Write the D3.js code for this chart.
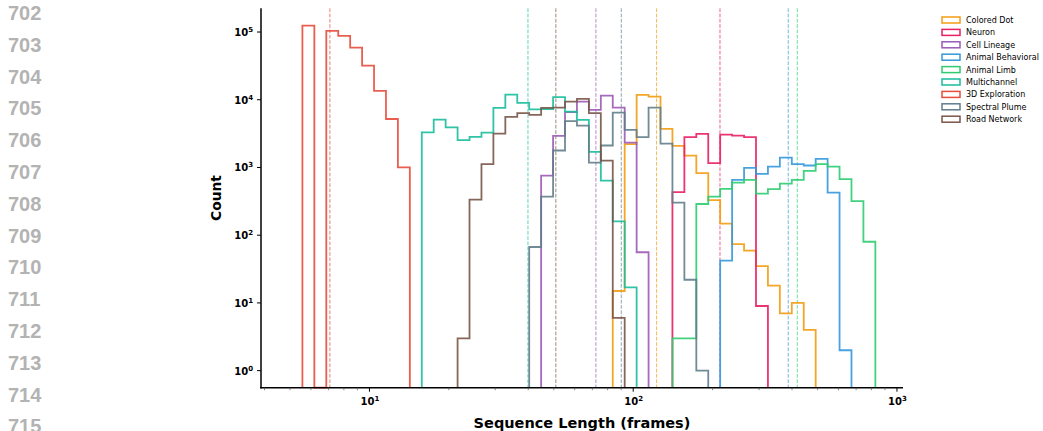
<!DOCTYPE html>
<html>
  <head>
    <meta charset="utf-8" />
    <title>Sequence length histogram</title>
    <script src="https://d3js.org/d3.v7.min.js"></script>
    <style>
      body { margin: 0; background: white; }
      svg { display: block; }
      .tick-label { font-family: "DejaVu Sans", sans-serif; font-weight: bold; font-size: 10px; }
      .axis-title { font-family: "DejaVu Sans", sans-serif; font-weight: bold; font-size: 14.5px; }
      .legend-text { font-family: "DejaVu Sans", sans-serif; font-size: 8px; }
      .gutter { font-family: "Liberation Sans", Arial, sans-serif; font-weight: bold; font-size: 20px; fill: #b3b3b3; }
    </style>
  </head>
  <body>
    <svg width="1043" height="431" id="chart"></svg>
    <script>
      // series, in legend order
      const seriesNames = ["Colored Dot", "Neuron", "Cell Lineage", "Animal Behavioral", "Animal Limb",
                           "Multichannel", "3D Exploration", "Spectral Plume", "Road Network"];
      const seriesColors = ["#f39c12", "#e91e63", "#9b59b6", "#3498db", "#2ecc71",
                            "#1abc9c", "#e74c3c", "#607d8b", "#795548"];

      // shared log bins (48 bins between these lengths)
      const binLo = 5.57, binHi = 828, binCount = 48;

      // first bin index of each series, then counts per bin
      const startBin = [26, 31, 20, 35, 31, 10, 0, 19, 13];
      const countsColoredDot = [15, 2210, 11800, 11100, 3720, 2080, 1500, 824, 329, 148, 74, 59, 35, 18, 7, 10, 4];
      const countsNeuron = [432, 2800, 3130, 1156, 3060, 2960, 2800, 9];
      const countsCellLineage = [760, 2930, 6560, 9400, 7100, 11500, 7670, 2330, 56];
      const countsAnimalBehavioral = [42, 656, 986, 805, 1030, 1400, 1120, 1070, 1340, 426, 2];
      const countsAnimalLimb = [3, 3, 289, 372, 483, 598, 656, 411, 478, 578, 656, 891, 1120, 1030, 671, 318, 80];
      const countsMultichannel = [3300, 5100, 3900, 2530, 2830, 3280, 7600, 11900, 9000, 7200, 7300, 10900, 6700, 5050, 1700, 640, 160, 17];
      const counts3D = [124000, 0, 104000, 88000, 59000, 32000, 13500, 5200, 1000];
      const countsSpectral = [67, 372, 1780, 4830, 4160, 1180, 2110, 6460, 3590, 2800, 7670, 2250, 303, 22, 1];
      const countsRoad = [3, 336, 1120, 3170, 5590, 6340, 5960, 7590, 7670, 9400, 10300, 6340, 1260, 6];
      const allCounts = [countsColoredDot, countsNeuron, countsCellLineage, countsAnimalBehavioral, countsAnimalLimb,
                         countsMultichannel, counts3D, countsSpectral, countsRoad];

      // dashed reference line per series (frames)
      const meanLengths = [122.6, 213.3, 72.2, 387, 418.8, 39.9, 7.08, 90.1, 50.9];

      const xTicks = [10, 100, 1000];
      const yTicks = [1, 10, 100, 1000, 10000, 100000];
      const gutterNumbers = [702, 703, 704, 705, 706, 707, 708, 709, 710, 711, 712, 713, 714, 715];

      const svg = d3.select("#chart");
      const pLeft = 261, pRight = 903, pTop = 8.3, pBottom = 387.7;

      const x = d3.scaleLog().domain([3.88, 1054]).range([pLeft, pRight]);
      const y = d3.scaleLog().domain([0.56, 224000]).range([pBottom, pTop]);

      // line numbers down the left edge
      svg.selectAll(".gutter")
        .data(gutterNumbers)
        .enter().append("text")
        .attr("class", "gutter")
        .attr("x", 8)
        .attr("y", (d, i) => 20 + i * 31.8)
        .text(d => d);

      const edges = d3.range(binCount + 1).map(k => binLo * Math.pow(binHi / binLo, k / binCount));

      // dashed lines
      svg.selectAll(".mean")
        .data(meanLengths)
        .enter().append("line")
        .attr("x1", d => x(d)).attr("x2", d => x(d))
        .attr("y1", pTop).attr("y2", pBottom)
        .attr("stroke", (d, i) => seriesColors[i])
        .attr("stroke-opacity", 0.7)
        .attr("stroke-width", 1)
        .attr("stroke-dasharray", "3.7,1.6");

      // step histograms
      const line = d3.line();
      function stepPoints(counts, s) {
        const yv = c => c > 0 ? y(c) : pBottom;
        const pts = [[x(edges[s]), pBottom]];
        counts.forEach((c, i) => {
          pts.push([x(edges[s + i]), yv(c)]);
          pts.push([x(edges[s + i + 1]), yv(c)]);
        });
        pts.push([x(edges[s + counts.length]), pBottom]);
        return pts;
      }

      svg.selectAll(".hist")
        .data(allCounts)
        .enter().append("path")
        .attr("class", "hist")
        .attr("d", (d, i) => line(stepPoints(d, startBin[i])))
        .attr("fill", "none")
        .attr("stroke", (d, i) => seriesColors[i])
        .attr("stroke-width", 1.8)
        .attr("stroke-opacity", 0.9)
        .attr("stroke-linejoin", "miter");

      // axes
      function powLabel(sel, d) {
        const e = Math.round(Math.log10(d));
        sel.append("tspan").text("10");
        sel.append("tspan").attr("dy", -4).attr("font-size", "7px").text(e);
      }

      const yAxis = svg.append("g");
      yAxis.append("line")
        .attr("x1", pLeft).attr("x2", pLeft).attr("y1", pTop).attr("y2", pBottom + 0.75)
        .attr("stroke", "black").attr("stroke-width", 1.5);
      yTicks.forEach(t => {
        yAxis.append("line")
          .attr("x1", pLeft - 4).attr("x2", pLeft).attr("y1", y(t)).attr("y2", y(t))
          .attr("stroke", "black").attr("stroke-width", 1);
        const lbl = yAxis.append("text")
          .attr("class", "tick-label")
          .attr("x", pLeft - 8).attr("y", y(t) + 4)
          .attr("text-anchor", "end");
        powLabel(lbl, t);
      });

      const xAxis = svg.append("g");
      xAxis.append("line")
        .attr("x1", pLeft - 0.75).attr("x2", pRight).attr("y1", pBottom).attr("y2", pBottom)
        .attr("stroke", "black").attr("stroke-width", 1.5);
      const minor = [];
      [1, 10, 100].forEach(b => d3.range(2, 10).forEach(m => {
        const v = b * m;
        if (v > x.domain()[0] && v < x.domain()[1]) minor.push(v);
      }));
      minor.forEach(v => {
        xAxis.append("line")
          .attr("x1", x(v)).attr("x2", x(v)).attr("y1", pBottom).attr("y2", pBottom + 2.5)
          .attr("stroke", "#555").attr("stroke-width", 0.7);
      });
      xTicks.forEach(t => {
        xAxis.append("line")
          .attr("x1", x(t)).attr("x2", x(t)).attr("y1", pBottom).attr("y2", pBottom + 4)
          .attr("stroke", "black").attr("stroke-width", 1);
        const lbl = xAxis.append("text")
          .attr("class", "tick-label")
          .attr("x", x(t) + 0.5).attr("y", pBottom + 17)
          .attr("text-anchor", "middle");
        powLabel(lbl, t);
      });

      svg.append("text")
        .attr("class", "axis-title")
        .attr("text-anchor", "middle")
        .attr("font-size", "13.8px")
        .style("font-size", "13.8px")
        .attr("transform", "translate(221," + ((pTop + pBottom) / 2) + ") rotate(-90)")
        .text("Count");
      svg.append("text")
        .attr("class", "axis-title")
        .attr("text-anchor", "middle")
        .attr("x", 582)
        .attr("y", 427.5)
        .text("Sequence Length (frames)");

      // legend
      const legend = svg.append("g");
      seriesNames.forEach((name, i) => {
        const cy = 20 + i * 12.4;
        legend.append("rect")
          .attr("x", 942).attr("y", cy - 3)
          .attr("width", 18).attr("height", 6)
          .attr("fill", "none")
          .attr("stroke", seriesColors[i])
          .attr("stroke-width", 1.5);
        legend.append("text")
          .attr("class", "legend-text")
          .attr("x", 966).attr("y", cy + 3)
          .text(name);
      });
    </script>
  </body>
</html>
